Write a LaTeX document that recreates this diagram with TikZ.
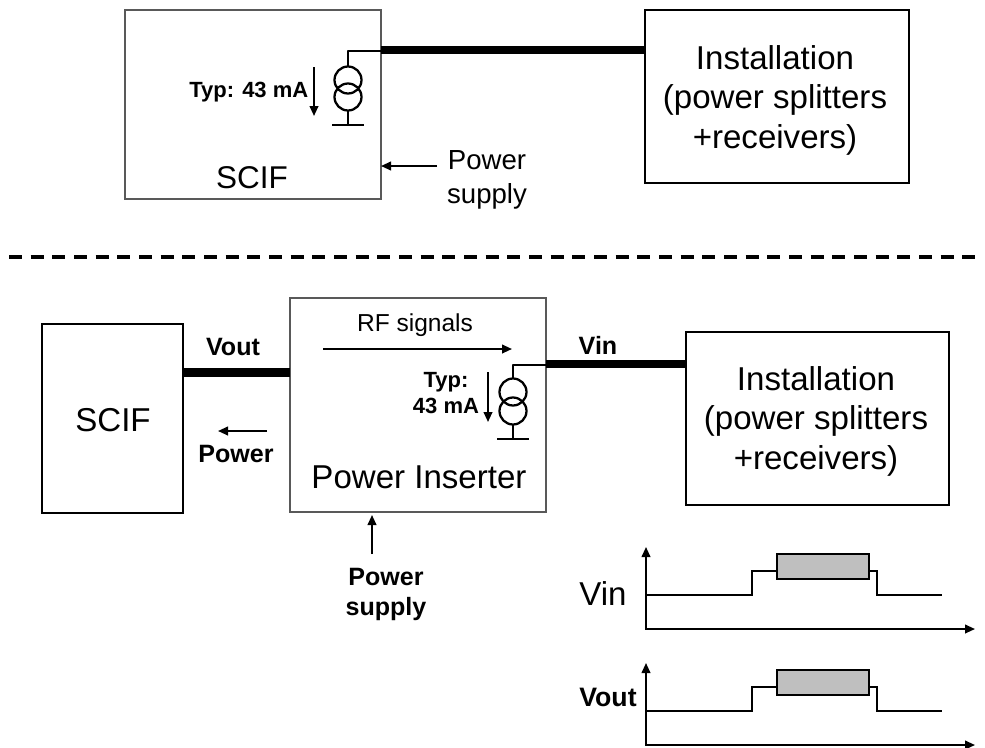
\documentclass[tikz,border=0pt]{standalone}
\usepackage{fontspec}
\setmainfont{Liberation Sans}
\usetikzlibrary{arrows.meta}
\tikzset{
 x=0.75pt,y=-0.75pt,
 box/.style={draw=black,line width=1.9pt},
 thinbox/.style={draw=black!65,line width=0.8pt},
 cable/.style={line width=6.7pt},
 wire/.style={line width=1.7pt},
 arr/.style={line width=1.4pt,-{Triangle[length=7.5pt,width=6.5pt]}},
 big/.style={font=\fontsize{24.8}{29.6}\selectfont,align=center},
 mid/.style={font=\fontsize{20.7}{26}\selectfont,align=center},
 bold/.style={font=\fontsize{18.8}{22.5}\selectfont\bfseries,align=center},
 smallb/.style={font=\fontsize{16.5}{19.5}\selectfont\bfseries,align=center},
 sig/.style={line width=1.5pt},
 pulse/.style={draw=black,line width=1.8pt,fill=black!25},
}
\newcommand{\csrc}[3]{% x, upper circle y, lower circle y
 \draw[wire] (#1,#2) circle[radius=13.5];
 \draw[wire] (#1,#3) circle[radius=13.5];
 \draw[wire] (#1,#3+13) -- (#1,#3+28);
 \draw[wire] (#1-16,#3+28) -- (#1+16,#3+28);
}
\newcommand{\wave}[2]{%
 \draw[arr,line cap=rect] (#1,#2+82) -- (#1,#2);
 \draw[arr,line cap=rect] (#1,#2+82) -- (#1+329,#2+82);
 \draw[sig] (#1,#2+48) -- (#1+106,#2+48) -- (#1+106,#2+24) -- (#1+131,#2+24);
 \draw[sig] (#1+223,#2+24) -- (#1+231,#2+24) -- (#1+231,#2+48) -- (#1+296,#2+48);
 \draw[pulse] (#1+131,#2+7) rectangle (#1+223,#2+32);
}
\begin{document}
\begin{tikzpicture}
\useasboundingbox (0,0) rectangle (985,747);
% top
\draw[thinbox] (125,10) rectangle (381,199);
\node[font=\fontsize{23.6}{28}\selectfont] (scifa) at (252,178) {SCIF};
\draw[box] (645,10) rectangle (909,183);
\node[big] (insta) at (775,100) {Installation\\(power splitters\\+receivers)};
\coordinate (ca) at (381,50);
\coordinate (cb) at (645,50);
\draw[cable] (ca) -- (cb);
\draw[wire,line join=round] (348,67) -- (348,51) -- (381,51);
\csrc{348}{80}{97}
\draw[arr] (314,67) -- (314,116);
\node[smallb,anchor=east] (typa) at (313,92) {Typ: 43 mA};
\coordinate (psa) at (381,166);
\coordinate (psb) at (437,166);
\draw[arr] (psb) -- (psa);
\node[mid] (psl) at (487,180) {Power\\supply};
% dashed
\draw[line width=2.4pt,dash pattern=on 9.75pt off 6.5pt] (9,257) -- (979,257);
% bottom
\draw[box] (42,324) rectangle (183,513);
\node[big] (scifb) at (113,420) {SCIF};
\draw[thinbox] (290,298) rectangle (546,512);
\node[big] (pi) at (419,477) {Power Inserter};
\draw[box] (686,332) rectangle (949,505);
\node[big] (instb) at (816,421) {Installation\\(power splitters\\+receivers)};
\draw[cable] (183,372.5) -- (290,372.5);
\draw[cable] (546,364) -- (686,364);
\node[bold] (vout) at (233,347) {Vout};
\node[bold] (vin) at (598,345) {Vin};
\draw[arr] (267,431) -- (218,431);
\node[bold] (pw) at (236,454) {Power};
\node[font=\fontsize{18.4}{22}\selectfont] (rf) at (415,325) {RF signals};
\draw[arr] (323,349) -- (512,349);
\draw[wire,line join=round] (513,379) -- (513,365) -- (546,365);
\csrc{513}{392}{411}
\draw[arr] (488,372) -- (488,422);
\node[smallb] (typb) at (446,393) {Typ:\\43 mA};
\draw[arr] (372,554) -- (372,515);
\node[bold] (psc) at (386,594) {Power\\supply};
\wave{646}{547}
\wave{646}{663}
\node[font=\fontsize{24.8}{29}\selectfont] (vinl) at (603,594) {Vin};
\node[font=\fontsize{20}{24}\selectfont\bfseries] (voutl) at (608,697) {Vout};
\end{tikzpicture}
\end{document}
